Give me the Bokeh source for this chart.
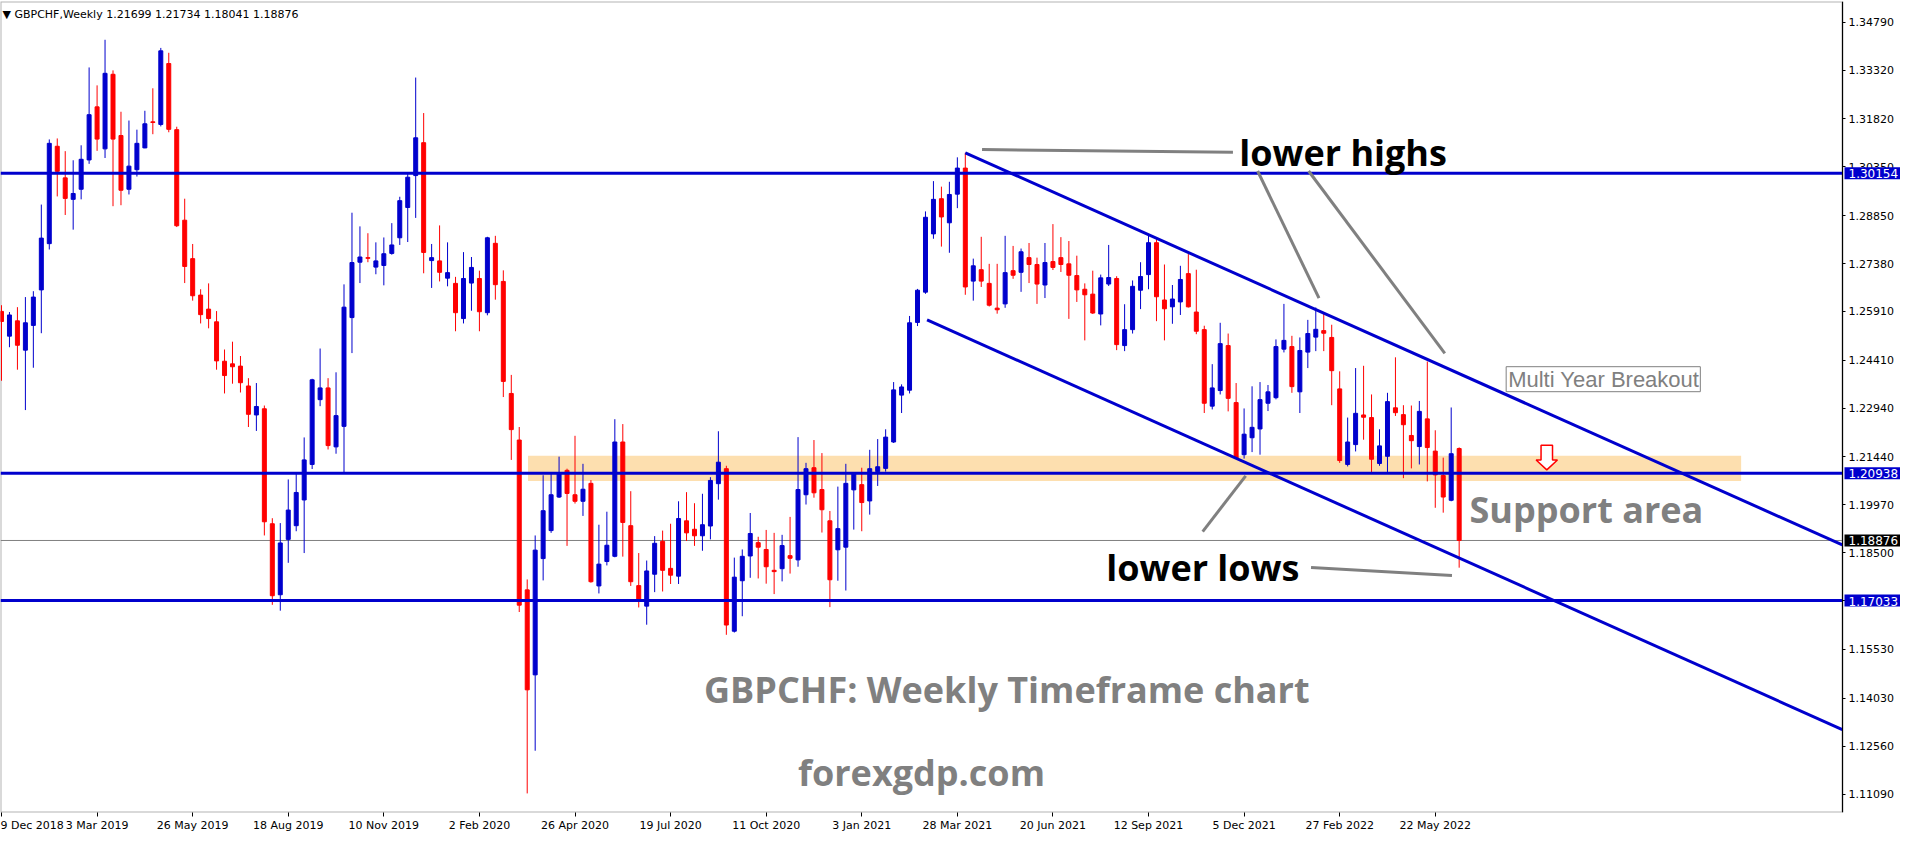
from bokeh.plotting import figure
from bokeh.models import Range1d, FixedTicker, Label, PrintfTickFormatter, BoxAnnotation
from bokeh.embed import file_html
from bokeh.resources import INLINE

# ---------------- data ----------------
opens = [1.2591, 1.2515, 1.2562, 1.2472, 1.2548, 1.2657, 1.2799, 1.3098, 1.3001, 1.2935,
         1.2966, 1.3056, 1.3219, 1.3090, 1.3319, 1.3131, 1.2966, 1.3026, 1.3093, 1.3173,
         1.3165, 1.3352, 1.3149, 1.2871, 1.2753, 1.2641, 1.2598, 1.2559, 1.2438, 1.2430,
         1.2423, 1.2362, 1.2273, 1.2292, 1.1939, 1.1721, 1.1891, 1.1933, 1.2012, 1.2121,
         1.2320, 1.2356, 1.2175, 1.2238, 1.2572, 1.2742, 1.2756, 1.2727, 1.2732, 1.2769,
         1.2817, 1.2910, 1.3008, 1.3109, 1.2747, 1.2746, 1.2693, 1.2677, 1.2569, 1.2678,
         1.2692, 1.2587, 1.2800, 1.2683, 1.2339, 1.2196, 1.1736, 1.1475, 1.1832, 1.1918,
         1.2021, 1.2103, 1.2028, 1.2008, 1.2063, 1.1748, 1.1823, 1.1839, 1.2190, 1.1933,
         1.1749, 1.1686, 1.1784, 1.1885, 1.1802, 1.1778, 1.1948, 1.1922, 1.1902, 1.1932,
         1.2062, 1.2108, 1.1609, 1.1764, 1.1840, 1.1881, 1.1860, 1.1796, 1.1801, 1.1841,
         1.1828, 1.2028, 1.2111, 1.2044, 1.1948, 1.1859, 1.1867, 1.2043, 1.2059, 1.2009,
         1.2099, 1.2109, 1.2190, 1.2334, 1.2349, 1.2557, 1.2650, 1.2829, 1.2937, 1.2863,
         1.2951, 1.3031, 1.2684, 1.2719, 1.2677, 1.2601, 1.2614, 1.2716, 1.2711, 1.2756,
         1.2735, 1.2672, 1.2744, 1.2756, 1.2737, 1.2701, 1.2659, 1.2644, 1.2583, 1.2675,
         1.2692, 1.2486, 1.2535, 1.2656, 1.2704, 1.2802, 1.2626, 1.2605, 1.2620, 1.2707,
         1.2589, 1.2535, 1.2300, 1.2348, 1.2486, 1.2311, 1.2151, 1.2203, 1.2230, 1.2309,
         1.2326, 1.2475, 1.2483, 1.2344, 1.2466, 1.2512, 1.2532, 1.2511, 1.2353, 1.2121,
         1.2182, 1.2273, 1.2265, 1.2124, 1.2146, 1.2295, 1.2274, 1.2210, 1.2176, 1.2261,
         1.2162, 1.2087, 1.2011, 1.21699]
highs = [1.2610, 1.2589, 1.2604, 1.2635, 1.2653, 1.2919, 1.3119, 1.3122, 1.3083, 1.3055,
         1.3101, 1.3340, 1.3285, 1.3425, 1.3331, 1.3204, 1.3177, 1.3149, 1.3207, 1.3276,
         1.3400, 1.3385, 1.3158, 1.2937, 1.2798, 1.2659, 1.2677, 1.2592, 1.2474, 1.2498,
         1.2454, 1.2386, 1.2371, 1.2302, 1.1956, 1.1941, 1.2075, 1.2092, 1.2204, 1.2384,
         1.2477, 1.2386, 1.2404, 1.2674, 1.2894, 1.2852, 1.2831, 1.2803, 1.2818, 1.2862,
         1.2943, 1.3013, 1.3309, 1.3200, 1.2798, 1.2855, 1.2803, 1.2697, 1.2773, 1.2758,
         1.2716, 1.2820, 1.2823, 1.2717, 1.2396, 1.2236, 1.1768, 1.1903, 1.2088, 1.2095,
         1.2145, 1.2108, 1.2209, 1.2123, 1.2073, 1.1936, 1.1976, 1.2260, 1.2245, 1.2039,
         1.1849, 1.1826, 1.1901, 1.1918, 1.1939, 1.2008, 1.2036, 1.2002, 1.2031, 1.2082,
         1.2223, 1.2117, 1.1835, 1.1860, 1.1972, 1.1899, 1.1920, 1.1911, 1.1905, 1.1960,
         1.2205, 1.2126, 1.2196, 1.2156, 1.1978, 1.2053, 1.2123, 1.2096, 1.2111, 1.2166,
         1.2199, 1.2229, 1.2374, 1.2367, 1.2577, 1.2660, 1.2898, 1.2991, 1.2974, 1.2989,
         1.3064, 1.3078, 1.2753, 1.2820, 1.2737, 1.2737, 1.2823, 1.2792, 1.2784, 1.2801,
         1.2756, 1.2801, 1.2859, 1.2819, 1.2807, 1.2762, 1.2677, 1.2716, 1.2704, 1.2795,
         1.2699, 1.2613, 1.2686, 1.2742, 1.2825, 1.2813, 1.2735, 1.2672, 1.2731, 1.2767,
         1.2719, 1.2547, 1.2429, 1.2556, 1.2523, 1.2371, 1.2293, 1.2361, 1.2374, 1.2365,
         1.2505, 1.2614, 1.2516, 1.2511, 1.2565, 1.2603, 1.2585, 1.2550, 1.2407, 1.2265,
         1.2417, 1.2424, 1.2336, 1.2229, 1.2341, 1.2450, 1.2303, 1.2302, 1.2316, 1.2437,
         1.2226, 1.2142, 1.2296, 1.21734]
lows = [1.2378, 1.2481, 1.2412, 1.2288, 1.2418, 1.2524, 1.2781, 1.2944, 1.2887, 1.2842,
        1.2935, 1.3044, 1.3084, 1.3062, 1.2914, 1.2917, 1.2950, 1.3005, 1.3092, 1.3135,
        1.3159, 1.3141, 1.2850, 1.2678, 1.2624, 1.2554, 1.2539, 1.2412, 1.2339, 1.2369,
        1.2342, 1.2236, 1.2224, 1.1903, 1.1690, 1.1672, 1.1819, 1.1916, 1.1849, 1.2107,
        1.2300, 1.2167, 1.2154, 1.2095, 1.2463, 1.2678, 1.2742, 1.2705, 1.2671, 1.2765,
        1.2795, 1.2804, 1.2878, 1.2708, 1.2663, 1.2683, 1.2668, 1.2530, 1.2554, 1.2593,
        1.2530, 1.2579, 1.2627, 1.2328, 1.2135, 1.1668, 1.1111, 1.1242, 1.1765, 1.1911,
        1.2018, 1.1871, 1.2001, 1.1963, 1.1758, 1.1725, 1.1811, 1.1836, 1.1838, 1.1748,
        1.1682, 1.1629, 1.1729, 1.1731, 1.1754, 1.1754, 1.1886, 1.1871, 1.1856, 1.1891,
        1.2013, 1.1598, 1.1605, 1.1655, 1.1773, 1.1771, 1.1755, 1.1723, 1.1762, 1.1786,
        1.1807, 1.1998, 1.2019, 1.1912, 1.1683, 1.1764, 1.1734, 1.1921, 1.1916, 1.1967,
        1.2055, 1.2099, 1.2187, 1.2279, 1.2339, 1.2546, 1.2645, 1.2814, 1.2790, 1.2771,
        1.2908, 1.2642, 1.2624, 1.2666, 1.2606, 1.2584, 1.2602, 1.2691, 1.2651, 1.2678,
        1.2614, 1.2632, 1.2718, 1.2712, 1.2568, 1.2620, 1.2502, 1.2583, 1.2548, 1.2669,
        1.2472, 1.2469, 1.2523, 1.2598, 1.2659, 1.2561, 1.2502, 1.2553, 1.2580, 1.2603,
        1.2521, 1.2279, 1.2290, 1.2336, 1.2284, 1.2138, 1.2139, 1.2159, 1.2151, 1.2285,
        1.2321, 1.2465, 1.2341, 1.2279, 1.2417, 1.2469, 1.2469, 1.2303, 1.2126, 1.2115,
        1.2161, 1.2197, 1.2097, 1.2117, 1.2097, 1.2270, 1.2079, 1.2109, 1.2121, 1.2069,
        1.1988, 1.1973, 1.2008, 1.18041]
closes = [1.2560, 1.2580, 1.2487, 1.2556, 1.2635, 1.2816, 1.3107, 1.3021, 1.2938, 1.2953,
          1.3058, 1.3195, 1.3120, 1.3322, 1.3120, 1.2963, 1.3037, 1.3107, 1.3167, 1.3171,
          1.3391, 1.3150, 1.2854, 1.2729, 1.2639, 1.2581, 1.2569, 1.2439, 1.2394, 1.2421,
          1.2372, 1.2275, 1.2299, 1.1945, 1.1718, 1.1880, 1.1981, 1.2035, 1.2135, 1.2381,
          1.2356, 1.2179, 1.2271, 1.2604, 1.2741, 1.2758, 1.2754, 1.2746, 1.2768, 1.2795,
          1.2931, 1.3003, 1.3124, 1.2772, 1.2756, 1.2711, 1.2710, 1.2587, 1.2692, 1.2726,
          1.2590, 1.2817, 1.2673, 1.2376, 1.2228, 1.1689, 1.1429, 1.1858, 1.1979, 1.2028,
          1.2096, 1.2032, 1.2008, 1.2045, 1.1761, 1.1815, 1.1873, 1.2190, 1.1943, 1.1761,
          1.1701, 1.1794, 1.1879, 1.1796, 1.1781, 1.1955, 1.1911, 1.1902, 1.1936, 1.2072,
          1.2128, 1.1628, 1.1775, 1.1839, 1.1909, 1.1867, 1.1807, 1.1792, 1.1872, 1.1833,
          1.2044, 1.2108, 1.2034, 1.1982, 1.1767, 1.1924, 1.2063, 1.2095, 1.2004, 1.2108,
          1.2114, 1.2205, 1.2350, 1.2359, 1.2556, 1.2656, 1.2880, 1.2935, 1.2881, 1.2950,
          1.3031, 1.2666, 1.2731, 1.2684, 1.2610, 1.2596, 1.2710, 1.2702, 1.2774, 1.2735,
          1.2675, 1.2741, 1.2726, 1.2735, 1.2702, 1.2657, 1.2642, 1.2586, 1.2694, 1.2695,
          1.2489, 1.2535, 1.2668, 1.2698, 1.2802, 1.2636, 1.2599, 1.2629, 1.2689, 1.2605,
          1.2530, 1.2309, 1.2356, 1.2492, 1.2324, 1.2141, 1.2214, 1.2235, 1.2320, 1.2344,
          1.2483, 1.2502, 1.2360, 1.2471, 1.2523, 1.2536, 1.2524, 1.2409, 1.2133, 1.2190,
          1.2278, 1.2266, 1.2137, 1.2178, 1.2314, 1.2280, 1.2243, 1.2194, 1.2284, 1.2173,
          1.2089, 1.2021, 1.2154, 1.18876]

date_tick_bars = [0, 12, 24, 36, 48, 60, 72, 84, 96, 108, 120, 132, 144, 156, 168, 180]
date_tick_labels = ["9 Dec 2018", "3 Mar 2019", "26 May 2019", "18 Aug 2019", "10 Nov 2019",
                    "2 Feb 2020", "26 Apr 2020", "19 Jul 2020", "11 Oct 2020", "3 Jan 2021",
                    "28 Mar 2021", "20 Jun 2021", "12 Sep 2021", "5 Dec 2021", "27 Feb 2022",
                    "22 May 2022"]
price_ticks = [1.34790, 1.33320, 1.31820, 1.30350, 1.28850, 1.27380, 1.25910, 1.24410,
               1.22940, 1.21440, 1.19970, 1.18500, 1.17030, 1.15530, 1.14030, 1.12560, 1.11090]

levels = [1.30154, 1.20938, 1.17033]
bid_price = 1.18876

zone_left, zone_right = [66.1], [218.4]
zone_top, zone_bottom = [1.21477], [1.20699]

upper_channel_x, upper_channel_y = [121.0, 231.1], [1.3078, 1.1874]
lower_channel_x, lower_channel_y = [116.2, 231.1], [1.2565, 1.1307]

pointer_xs = [[123.1, 154.6], [157.7, 165.4], [164.1, 181.2], [150.8, 156.2], [164.4, 182.1]]
pointer_ys = [[1.3088, 1.3080], [1.3022, 1.2632], [1.3022, 1.2462], [1.1915, 1.2086], [1.1805, 1.1780]]

arrow_x, arrow_top, arrow_neck, arrow_tip = 194.0, 1.21801, 1.21347, 1.21045

BLUE = "#0000CD"
RED = "#FF0000"
GRAY = "#808080"

X0, X1 = -0.125, 231.125
Y0, Y1 = 1.10524, 1.35425
FRAME_W = 1900
CHART_W = 1842
X_END = X0 + (X1 - X0) * FRAME_W / CHART_W

p = figure(width=FRAME_W, height=834, output_backend="svg", toolbar_location=None,
           x_range=Range1d(X0, X_END), y_range=Range1d(Y0, Y1),
           y_axis_location="right", min_border_left=0, min_border_top=1,
           min_border_right=0, min_border_bottom=20)
p.xgrid.visible = False
p.ygrid.visible = False
p.outline_line_color = None
p.background_fill_color = "white"
p.border_fill_color = "white"

xa = p.xaxis[0]
xa.ticker = FixedTicker(ticks=date_tick_bars)
xa.major_label_overrides = {b: l for b, l in zip(date_tick_bars, date_tick_labels)}
xa.major_label_text_align = "left"
xa.major_label_text_font = "DejaVu Sans"
xa.major_label_text_font_size = "11px"
xa.major_label_text_color = "black"
xa.major_tick_in = 0
xa.major_tick_out = 4
xa.minor_tick_out = 0
xa.minor_tick_in = 0
xa.major_label_standoff = 2
xa.axis_line_color = None

ya = p.yaxis[0]
ya.fixed_location = X1
ya.ticker = FixedTicker(ticks=price_ticks)
ya.formatter = PrintfTickFormatter(format="%.5f")
ya.major_label_text_font = "DejaVu Sans"
ya.major_label_text_font_size = "11px"
ya.major_label_text_color = "black"
ya.major_tick_in = 0
ya.major_tick_out = 3
ya.minor_tick_out = 0
ya.minor_tick_in = 0
ya.major_label_standoff = 3
ya.axis_line_color = "black"

p.add_layout(BoxAnnotation(left=X0, right=X1, bottom=Y0, top=Y1, fill_alpha=0,
                           line_color="black", line_width=2, level="underlay"))

p.quad(left=zone_left, right=zone_right, top=zone_top, bottom=zone_bottom,
       fill_color="#FDDFAF", line_color=None)

p.segment(x0=[X0], x1=[X1], y0=[bid_price], y1=[bid_price], line_color=GRAY, line_width=1)

idx = list(range(len(opens)))
colors = [BLUE if c >= o else RED for o, c in zip(opens, closes)]
tops = [max(o, c) for o, c in zip(opens, closes)]
bottoms = [min(o, c) for o, c in zip(opens, closes)]
p.segment(x0=idx, x1=idx, y0=lows, y1=highs, line_color=colors, line_width=1)
p.vbar(x=idx, width=0.5, top=tops, bottom=bottoms, fill_color=colors, line_color=colors,
       line_width=1)

p.segment(x0=[X0] * len(levels), x1=[X1] * len(levels), y0=levels, y1=levels,
          line_color=BLUE, line_width=3)

p.line(upper_channel_x, upper_channel_y, line_color=BLUE, line_width=3)
p.line(lower_channel_x, lower_channel_y, line_color=BLUE, line_width=3)

p.multi_line(pointer_xs, pointer_ys, line_color=GRAY, line_width=3)

sw, hw = 0.72, 1.34
ax = [arrow_x - sw, arrow_x + sw, arrow_x + sw, arrow_x + hw, arrow_x, arrow_x - hw, arrow_x - sw]
ay = [arrow_top, arrow_top, arrow_neck, arrow_neck, arrow_tip, arrow_neck, arrow_neck]
p.patch(ax, ay, fill_color="white", line_color=RED, line_width=1.5)


def big(text, x, y, color, size):
    p.add_layout(Label(x=x, y=y, text=text, text_font="Open Sans", text_font_style="bold",
                       text_font_size=size, text_color=color, text_baseline="alphabetic",
                       text_align="left"))


big("lower highs", 155.4, 1.30800, "black", "36px")
big("lower lows", 138.7, 1.18050, "black", "36px")
big("Support area", 184.3, 1.19834, GRAY, "36px")
big("GBPCHF: Weekly Timeframe chart", 88.2, 1.14300, GRAY, "36px")
big("forexgdp.com", 100.0, 1.11764, GRAY, "36px")

p.add_layout(Label(x=188.9, y=1.23828, text="Multi Year Breakout", text_font="Liberation Sans",
                   text_font_size="22px", text_color=GRAY, text_baseline="middle",
                   text_align="left", border_line_color=GRAY, border_line_width=1,
                   background_fill_color="white",
                   padding=dict(left=2, right=1, top=0, bottom=0)))

p.add_layout(Label(x=X0, y=1.35030, x_offset=2,
                   text="\u25BC  GBPCHF,Weekly  1.21699 1.21734 1.18041 1.18876",
                   text_font="DejaVu Sans", text_font_size="11px", text_color="black",
                   text_baseline="alphabetic", text_align="left"))

tag_prices = levels + [bid_price]
tag_colors = [BLUE, BLUE, BLUE, "black"]
for pr, bg in zip(tag_prices, tag_colors):
    p.add_layout(Label(x=X1, y=pr, x_offset=2, text="%.5f" % pr, text_font="DejaVu Sans",
                       text_font_size="12px", text_color="white", text_baseline="middle",
                       text_align="left", background_fill_color=bg,
                       padding=dict(left=4, right=5, top=2, bottom=1)))

open("out.html", "w").write(file_html(p, INLINE))
